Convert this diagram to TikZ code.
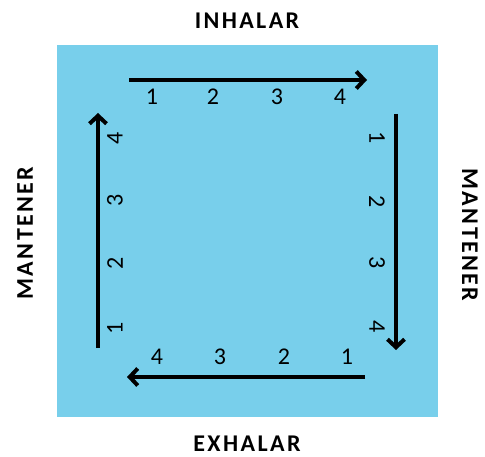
\documentclass[tikz,border=0pt]{standalone}
\usepackage{fontspec}
\setmainfont{Carlito}
\newfontfamily\titlefont[LetterSpace=10]{Carlito}
\usetikzlibrary{arrows.meta}
\definecolor{skyb}{HTML}{78CFEB}
\begin{document}
\begin{tikzpicture}[x=1pt,y=-1pt,
  arr/.style={line width=4pt,-{Straight Barb[length=8pt,width=17pt,line width=4pt]}},
  num/.style={font=\fontsize{24}{24}\selectfont,inner sep=0pt},
  ttl/.style={font=\titlefont\bfseries\fontsize{24}{24}\selectfont,inner sep=0pt}]
\useasboundingbox (0,0) rectangle (485,457);
\fill[skyb] (57,45) rectangle (438,417);
% titles
\node[ttl] (inh) at (247,21) {INHALAR};
\node[ttl] (exh) at (247,444) {EXHALAR};
\node[ttl,rotate=90] (manl) at (25,233) {MANTENER};
\node[ttl,rotate=-90] (manr) at (470,235) {MANTENER};
% arrow endpoints
\coordinate (t1) at (129,80); \coordinate (t2) at (367,80);
\coordinate (r1) at (396,114); \coordinate (r2) at (396,350);
\coordinate (b1) at (365,377); \coordinate (b2) at (127,377);
\coordinate (l1) at (98,348); \coordinate (l2) at (98,113);
\draw[arr] (t1) -- (t2);
\draw[arr] (r1) -- (r2);
\draw[arr] (b1) -- (b2);
\draw[arr] (l1) -- (l2);
% top numbers
\node[num] (tn1) at (152,97) {1};
\node[num] (tn2) at (213,97) {2};
\node[num] (tn3) at (277,97) {3};
\node[num] (tn4) at (340,97) {4};
% right numbers
\node[num,rotate=-90] (rn1) at (377,138) {1};
\node[num,rotate=-90] (rn2) at (377,202) {2};
\node[num,rotate=-90] (rn3) at (377,263) {3};
\node[num,rotate=-90] (rn4) at (377,327) {4};
% bottom numbers
\node[num] (bn4) at (157,357) {4};
\node[num] (bn3) at (220,357) {3};
\node[num] (bn2) at (284,357) {2};
\node[num] (bn1) at (347,357) {1};
% left numbers
\node[num,rotate=90] (ln1) at (115,328) {1};
\node[num,rotate=90] (ln2) at (115,263) {2};
\node[num,rotate=90] (ln3) at (115,200) {3};
\node[num,rotate=90] (ln4) at (115,138) {4};
\end{tikzpicture}
\end{document}
